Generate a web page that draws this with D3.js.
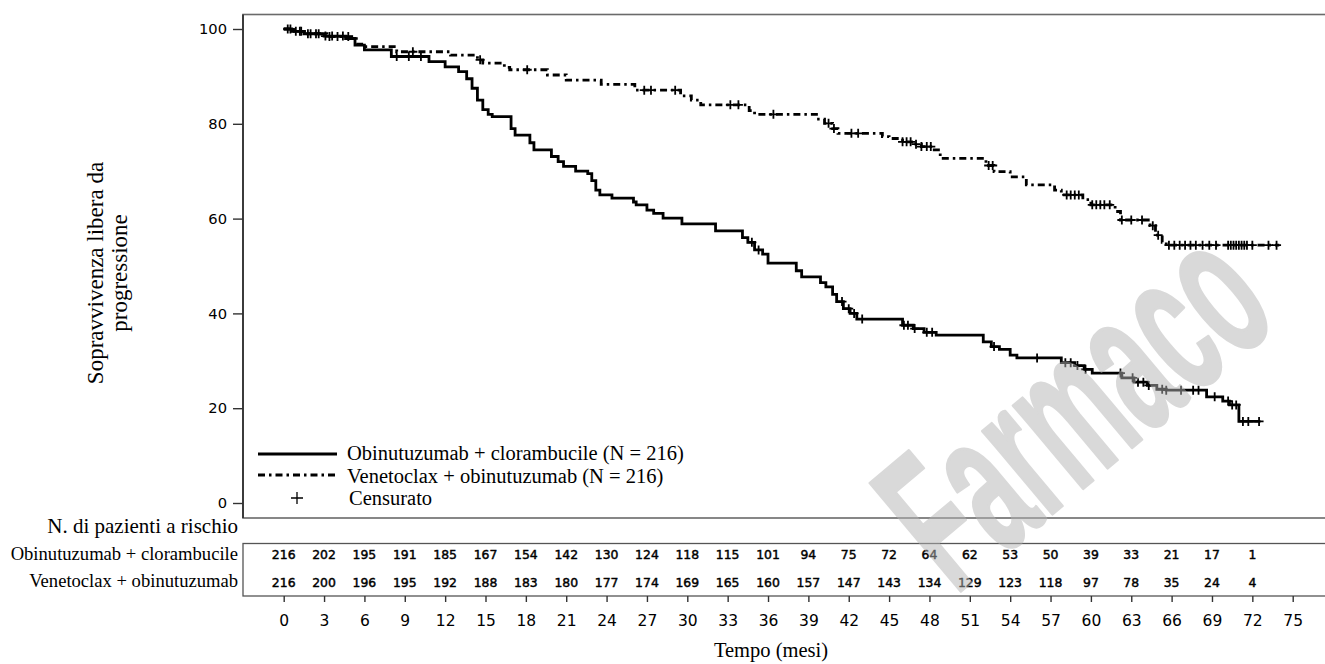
<!DOCTYPE html>
<html>
<head>
<meta charset="utf-8">
<script src="https://cdn.jsdelivr.net/npm/d3@7"></script>
<style>
  body { margin: 0; background: #fff; }
  svg { display: block; }
</style>
</head>
<body>
<div id="chart"></div>
<script>
// Mesi sull'asse e pazienti a rischio
const xTicks = d3.range(0, 76, 3);
const yTicks = [0, 20, 40, 60, 80, 100];
const riskMonths = d3.range(0, 73, 3);
const riskObiClb = [216, 202, 195, 191, 185, 167, 154, 142, 130, 124, 118, 115, 101, 94, 75, 72, 64, 62, 53, 50, 39, 33, 21, 17, 1];
const riskVenObi = [216, 200, 196, 195, 192, 188, 183, 180, 177, 174, 169, 165, 160, 157, 147, 143, 134, 129, 123, 118, 97, 78, 35, 24, 4];
const rowLabels = ["Obinutuzumab + clorambucile", "Venetoclax + obinutuzumab"];
const legendLabels = ["Obinutuzumab + clorambucile (N = 216)", "Venetoclax + obinutuzumab (N = 216)", "Censurato"];

// Curve di Kaplan-Meier: [mese, % libera da progressione]
const stepsObiClb = [
  [0, 100], [0.6, 99.5], [1.5, 99], [3, 98.5], [4.6, 98], [5.3, 96.6], [6, 95.6], [8, 94.2],
  [10.8, 93.1], [12, 92], [13, 91], [13.6, 89.5], [14, 87.5], [14.4, 85], [14.8, 83], [15.2, 82],
  [15.5, 81.5], [16.9, 79], [17.2, 77.6], [18.3, 76], [18.6, 74.5], [19.9, 73.1], [20.4, 72],
  [20.8, 71], [21.7, 70], [22.6, 69.5], [22.9, 68], [23.2, 66], [23.5, 65], [24.4, 64.3],
  [26, 63.5], [26.2, 62.9], [27, 61.8], [27.5, 61.1], [28.2, 60.1], [29.6, 58.9], [32.1, 57.4],
  [34.1, 56], [34.5, 55], [35, 53.4], [35.6, 52.5], [36, 50.6], [38.1, 49], [38.5, 47.7],
  [39.9, 46.5], [40.3, 45.6], [40.8, 44], [41.1, 42.5], [41.6, 41], [42.1, 40], [42.6, 38.8],
  [46, 37.5], [46.8, 36.8], [47.6, 36], [48.5, 35.4], [52, 34], [52.6, 33], [53.2, 32.4],
  [54, 31.2], [54.5, 30.6], [57.8, 29.6], [58.8, 29], [59.5, 28.2], [60.1, 27.4], [62.3, 26.4],
  [63.2, 25.5], [64.2, 24.8], [64.9, 24], [65.6, 23.8], [68.6, 22.4], [69.8, 21.5], [70.3, 20.7],
  [71, 17.2]
];
const endObiClb = 72.6;
const censObiClb = [0.3, 0.9, 1.3, 1.8, 2.4, 3.1, 3.6, 4.4, 8.4, 9.3, 10.2, 34.8, 35.3, 41.5, 42, 42.4,
  43, 46.1, 46.4, 46.9, 47.8, 48.2, 52.8, 56, 58.1, 58.5, 59, 59.6, 62.2, 63.1, 63.5, 63.9, 64.3,
  65.3, 65.6, 66.7, 67.6, 68, 69.2, 70.2, 70.5, 70.8, 71.3, 71.7, 72.5];

const stepsVenObi = [
  [0, 100], [0.8, 99.5], [1.8, 99], [3.2, 98.4], [5.4, 96.8], [5.8, 96.3], [8.4, 95.2], [12.4, 94.5],
  [14.4, 93.5], [14.8, 92.8], [16.4, 91.9], [16.8, 91.4], [19.6, 90.3], [21, 89.2], [23.6, 88.3],
  [26.1, 87.1], [29.5, 85.9], [30.3, 85], [31, 84], [34.6, 82.8], [35, 82], [39.6, 81], [40.2, 80.1],
  [40.8, 79], [41.2, 78], [44.5, 77.3], [45, 76.9], [46, 76.2], [46.8, 75.7], [47.4, 75.2],
  [48.2, 74.5], [48.8, 72.7], [52.2, 71.2], [52.8, 69.9], [54, 68.8], [55.2, 67.1], [57.3, 66],
  [57.8, 65], [59.4, 64], [60, 62.9], [61.8, 61.5], [62.2, 59.7], [64.4, 58.5], [64.8, 56.5],
  [65.3, 55], [65.6, 54.4]
];
const endVenObi = 74;
const censVenObi = [0.5, 1.2, 2, 2.6, 3.4, 4, 4.8, 9.6, 14.6, 18.1, 26.8, 27.3, 29.1, 33.2, 33.8, 36.4,
  40.5, 40.9, 42.2, 42.7, 46, 46.3, 46.6, 47, 47.4, 47.8, 48.1, 52.4, 52.7, 58.2, 58.5, 58.8, 59.1,
  60.1, 60.4, 60.7, 61, 61.4, 62.3, 63, 63.8, 64.6, 65, 65.8, 66.2, 66.6, 67, 67.4, 67.8, 68.3, 68.8,
  69.3, 70.2, 70.4, 70.6, 70.8, 71, 71.2, 71.4, 71.6, 72, 73.2, 73.8];

const width = 1325, height = 664;
const serif = "'Liberation Serif', 'Times New Roman', serif";
const sans = "'DejaVu Sans', sans-serif";
const dashDot = "7,4,2.5,4";

const svg = d3.select("#chart").append("svg")
       .attr("width", width)
       .attr("height", height);

const x = d3.scaleLinear().domain([0, 75]).range([283.7, 1292.7]);
const y = d3.scaleLinear().domain([0, 100]).range([503, 29]);

const frameLeft = 243, frameTop = 14.5, frameBottom = 518;
const tableTop = 543.5, tableBottom = 596;

// Cornice del grafico e tabella dei pazienti a rischio
svg.append("rect")
       .attr("x", frameLeft).attr("y", frameTop)
       .attr("width", width + 20 - frameLeft).attr("height", frameBottom - frameTop)
       .attr("fill", "none").attr("stroke", "#6a6a6a").attr("stroke-width", 1.6);
svg.append("line")
       .attr("x1", frameLeft).attr("x2", frameLeft).attr("y1", frameTop).attr("y2", frameBottom)
       .attr("stroke", "#333").attr("stroke-width", 1.8);
svg.append("rect")
       .attr("x", frameLeft).attr("y", tableTop)
       .attr("width", width + 20 - frameLeft).attr("height", tableBottom - tableTop)
       .attr("fill", "none").attr("stroke", "#555").attr("stroke-width", 1.3);

// Assi
svg.append("g")
       .attr("transform", `translate(${frameLeft},0)`)
       .call(d3.axisLeft(y).tickValues(yTicks).tickSize(10).tickPadding(6))
       .call(g => g.select(".domain").remove())
       .attr("font-family", sans).attr("font-size", 14.7)
       .call(g => g.selectAll("line").attr("stroke", "#333").attr("stroke-width", 1.4))
       .call(g => g.selectAll("text").attr("fill", "#000"));

svg.append("g")
       .attr("transform", `translate(0,${tableBottom})`)
       .call(d3.axisBottom(x).tickValues(xTicks).tickSize(6).tickPadding(12.5))
       .call(g => g.select(".domain").remove())
       .attr("font-family", sans).attr("font-size", 15.5)
       .call(g => g.selectAll("line").attr("stroke", "#333").attr("stroke-width", 1.4))
       .call(g => g.selectAll("text").attr("fill", "#000"));

// Curve
const km = d3.line().x(d => x(d[0])).y(d => y(d[1])).curve(d3.curveStepAfter);
const byMonth = d3.bisector(d => d[0]).right;

function drawArm(steps, end, cens, dash) {
       const pts = steps.concat([[end, steps[steps.length - 1][1]]]);
       svg.append("path")
              .datum(pts)
              .attr("d", km)
              .attr("fill", "none")
              .attr("stroke", "#000")
              .attr("stroke-width", 2.8)
              .attr("stroke-dasharray", dash);

       const valueAt = t => steps[byMonth(steps, t) - 1][1];
       svg.append("g").selectAll("path")
              .data(cens)
              .enter()
              .append("path")
              .attr("d", d => `M${x(d) - 4.5},${y(valueAt(d))}h9M${x(d)},${y(valueAt(d)) - 4.5}v9`)
              .attr("stroke", "#000")
              .attr("stroke-width", 1.8);
}

drawArm(stepsObiClb, endObiClb, censObiClb, null);
drawArm(stepsVenObi, endVenObi, censVenObi, dashDot);

// Legenda
const legend = svg.append("g");
legend.selectAll("line")
       .data([null, dashDot])
       .enter()
       .append("line")
       .attr("x1", 258).attr("x2", 337)
       .attr("y1", (d, i) => 454 + i * 21).attr("y2", (d, i) => 454 + i * 21)
       .attr("stroke", "#000").attr("stroke-width", 3)
       .attr("stroke-dasharray", d => d);
legend.append("path")
       .attr("d", "M291,498h12M297,492v12")
       .attr("stroke", "#000").attr("stroke-width", 1.3);
legend.selectAll("text")
       .data(legendLabels)
       .enter()
       .append("text")
       .attr("x", (d, i) => i < 2 ? 347 : 349)
       .attr("y", (d, i) => [460, 482.5, 505][i])
       .style("font-family", serif)
       .style("font-size", "20.5px")
       .text(d => d);

// Tabella a rischio
svg.append("text")
       .attr("x", 238).attr("y", 533)
       .attr("text-anchor", "end")
       .style("font-family", serif).style("font-size", "21px")
       .text("N. di pazienti a rischio");

[riskObiClb, riskVenObi].forEach((row, r) => {
       const yb = [559, 586.5][r];
       svg.append("text")
              .attr("x", 238).attr("y", [560, 587][r])
              .attr("text-anchor", "end")
              .style("font-family", serif).style("font-size", "18.6px")
              .text(rowLabels[r]);
       svg.append("g").selectAll("text")
              .data(row)
              .enter()
              .append("text")
              .attr("x", (d, i) => x(riskMonths[i]))
              .attr("y", yb)
              .attr("text-anchor", "middle")
              .style("font-family", sans).style("font-size", "12.4px")
              .attr("stroke", "#000").attr("stroke-width", 0.45)
              .text(d => d);
});

// Titoli degli assi
const yTitle = svg.append("text")
       .attr("transform", "translate(0,273) rotate(-90)")
       .attr("text-anchor", "middle")
       .style("font-family", serif).style("font-size", "23px");
yTitle.append("tspan").attr("x", 0).attr("y", 103).text("Sopravvivenza libera da");
yTitle.append("tspan").attr("x", 0).attr("y", 127).text("progressione");

svg.append("text")
       .attr("x", 771).attr("y", 657)
       .attr("text-anchor", "middle")
       .style("font-family", serif).style("font-size", "20.5px")
       .text("Tempo (mesi)");

// Filigrana (semitrasparente, sopra alle curve)
svg.append("g")
       .attr("opacity", 0.5)
       .append("text")
       .attr("transform", "translate(955,596) rotate(-40) scale(0.5,1)")
       .style("font-family", "'Liberation Sans', Arial, sans-serif")
       .style("font-weight", "bold")
       .style("font-size", "205px")
       .attr("fill", "#b4b4b4")
       .attr("stroke", "#b4b4b4")
       .attr("stroke-width", 3)
       .attr("stroke-linejoin", "round")
       .text("Farmaco");
</script>
</body>
</html>
